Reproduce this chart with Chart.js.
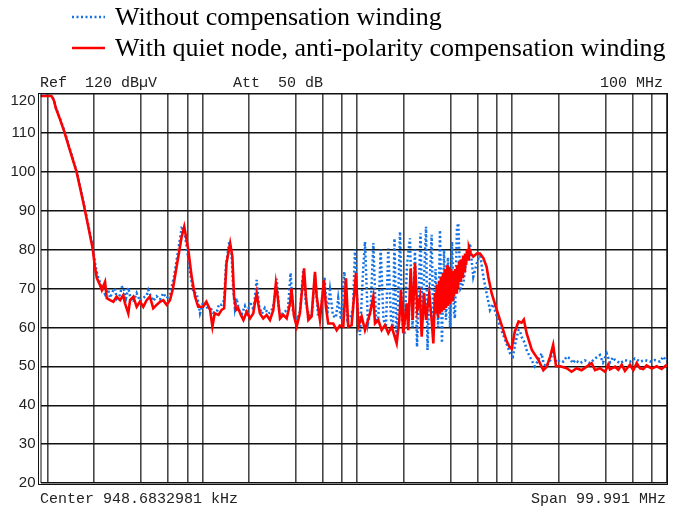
<!DOCTYPE html>
<html><head><meta charset="utf-8">
<script src="https://cdn.jsdelivr.net/npm/chart.js@4.4.1/dist/chart.umd.min.js"></script>
<style>html,body{margin:0;padding:0;background:#fff}#wrap{width:673px;height:510px;position:relative}</style>
</head><body><div id="wrap"><canvas id="c" width="673" height="510"></canvas></div>
<script>
const seriesNames = ["Without compensation winding", "With quiet node, anti-polarity compensation winding"];
const gridFreqMHz = [0.01,0.02,0.04,0.06,0.08,0.1,0.2,0.4,0.6,0.8,1,2,4,6,8,10,20,40,60,80,100];
const levelTicks = [20,30,40,50,60,70,80,90,100,110,120];
const headerTexts = ["Ref  120 dB\u00b5V", "Att  50 dB", "100 MHz"];
const footerTexts = ["Center 948.6832981 kHz", "Span 99.991 MHz"];

const withoutFreqMHz = [
0.009,0.0106,0.0110,0.0113,0.0120,0.0128,0.0138,0.0154,0.0169,0.0183,0.0196,0.0202,
0.0208,0.0213,0.0224,0.0235,0.0246,0.0253,0.0266,0.0272,0.0280,0.0294,
0.0301,0.0308,0.0321,0.0332,0.0341,0.0358,0.0376,0.0395,0.0415,0.0436,
0.0447,0.0458,0.0481,0.0506,0.0532,0.0558,0.0587,0.0617,0.0655,0.0695,
0.0734,0.0763,0.0796,0.0832,0.0875,0.0918,0.0964,0.101,0.104,0.109,
0.112,0.117,0.124,0.128,0.133,0.138,0.142,0.149,0.154,0.158,
0.162,0.166,0.172,0.180,0.188,0.195,0.203,0.214,0.224,0.232,
0.242,0.253,0.265,0.277,0.289,0.302,0.312,0.326,0.341,0.357,
0.371,0.384,0.405,0.426,0.448,0.466,0.488,0.510,0.533,0.557,
0.582,0.613,0.641,0.666,0.696,0.728,0.753,0.784,0.825,0.863,
0.910,0.938,0.967,0.996,1.041,1.088,1.121,1.172,1.217,1.269,
1.321,1.366,1.416,1.476,1.532,1.585,1.651,1.700,1.738,1.791,
1.845,1.887,1.945,2.016,2.093,2.188,2.272,2.358,2.43,2.50,
2.56,2.636,2.718,2.78,2.84,2.925,3.02,3.10,3.20,3.33,
3.42,3.52,3.63,3.74,3.85,3.97,4.09,4.21,4.27,4.40,
4.49,4.64,4.84,5.09,5.34,5.61,5.91,6.20,6.52,6.84,
7.19,7.52,7.96,8.35,9.00,9.70,10.1,10.6,11.0,11.2,
11.5,12.1,12.4,13.0,14.0,14.7,15.5,16.0,16.7,17.6,
18.4,19.3,20.4,21.4,22.5,23.6,24.7,25.5,27.4,29.5,
31.8,34.3,36.9,38.6,40.8,42.8,44.8,46.2,49.8,53.5,
57.7,62.1,66.9,72.0,77.7,83.6,90.1,94.6,98.3,100];
const withoutLevel = [
119.6,119.6,118.5,116.6,113.8,110.7,106.4,100.2,93,86.4,80.6,76.8,
74.2,72.6,70.3,68.5,69.8,67.6,69.6,70,67.4,68.4,
70.3,70.5,67.5,70.2,68,66.5,68.8,66.8,67.6,68.2,
69.6,68.5,66.8,68,67.2,68.8,67.5,68.5,73,79.5,
85.5,85,80,74,69,68.8,63.6,66.5,66.2,64.5,
65.3,63.8,64,66,65.8,67,76,82,79,70,
65,67.5,64.5,63.5,65.5,63.5,66.6,64.5,72.2,65.5,
63.5,65,63.5,64,66,72.5,64.5,63.5,64,65,
74,64,62,64,74.8,66,63,64,73.5,63.5,
64,73,63.5,69.6,63,62.5,67.5,62,74.3,62,
63,65,80,68,58,74,82,61,64,81.7,
62,61.9,80,62,60,80.3,62,60,82.9,56.6,
70,84.6,62,58,76,82.9,60,80,55,70,
84.2,62,76,85.9,54.2,70,83.8,58,75,60,
85,56,80,62,78,60,82,64,62.3,85.5,
86.8,70,71.3,78.2,81.6,73,76.5,79,73,68.8,
64.5,66,62.8,60.2,56.8,53.3,52.5,56.8,59.3,59.3,
57.6,55.9,54.2,52.5,50,51.5,53.3,50.5,50,51.5,
54.2,51,51.6,51.2,52.5,52,50.8,51.6,50.8,51.5,
50.8,52,52.9,51,53.3,51,52.3,51.6,50.8,51.6,
51.2,52,51.2,51.6,51.2,51.6,51.2,52.5,51.5,51.8];

const withFreqMHz = [
0.009,0.0106,0.0110,0.0113,0.0120,0.0128,0.0138,0.0154,0.0169,0.0183,0.0196,0.0202,
0.0208,0.0218,0.0224,0.0235,0.0241,0.0253,0.0266,0.0279,0.0294,0.0308,
0.0316,0.0332,0.0341,0.0358,0.0376,0.0395,0.0415,0.0436,0.0458,0.0481,
0.0506,0.0532,0.0558,0.0587,0.0617,0.0645,0.0681,0.0734,0.0763,0.0810,
0.0852,0.0896,0.0939,0.101,0.106,0.112,0.116,0.120,0.127,0.133,
0.138,0.143,0.151,0.156,0.160,0.165,0.170,0.177,0.184,0.193,
0.203,0.213,0.218,0.224,0.229,0.235,0.247,0.260,0.273,0.287,
0.298,0.306,0.317,0.333,0.350,0.368,0.376,0.390,0.406,0.426,
0.453,0.466,0.483,0.507,0.533,0.547,0.574,0.609,0.627,0.649,
0.699,0.736,0.771,0.812,0.845,0.874,0.919,0.981,1.015,1.067,
1.121,1.208,1.269,1.301,1.366,1.437,1.509,1.585,1.667,1.796,
1.867,1.915,1.98,2.084,2.134,2.212,2.279,2.358,2.44,2.54,
2.605,2.70,2.78,2.916,3.02,3.097,3.175,3.225,3.275,3.325,
3.375,3.42,3.47,3.52,3.57,3.63,3.68,3.74,3.80,3.85,
3.91,3.97,4.03,4.09,4.15,4.21,4.27,4.34,4.40,4.47,
4.54,4.61,4.67,4.745,4.815,4.89,4.96,5.035,5.11,5.19,
5.26,5.40,5.61,5.91,6.20,6.52,6.84,7.01,7.37,7.96,
8.55,9.21,9.61,9.93,10.4,11.0,11.5,11.9,12.4,13.4,
14.8,15.9,16.7,17.6,18.4,19.2,20.4,22.5,24.2,26.1,
28.1,30.3,32.6,34.3,36.9,39.8,41.7,42.8,46.2,48.5,
51.0,53.5,57.7,60.6,63.7,66.9,70.3,73.9,79.7,85.8,
92.3,98.3,100];
const withLevel = [
119.5,119.5,118.3,116.4,113.6,110.4,106.1,99.9,92.6,86,80,75.6,
72.7,70.9,69.6,71.7,67.5,67,66.6,67.9,67,68.3,
66.2,63.6,67,67.9,65.3,66.6,65.3,67,67.9,64.9,
65.8,66.6,67,65.8,67,70,75.6,83.3,85.9,80,
73,67.9,65.3,65.3,66.6,64.5,60.2,63.6,63.2,64.5,
64.9,76.5,81.6,78.2,67.9,64.5,65,63.2,61.9,64,
62.3,63.6,66.2,68.8,66.2,63.6,62.3,63.2,61.9,64.5,
71.3,67.9,62.3,63.2,62.3,66.2,70,63,60.2,63.6,
75.2,67.9,61.9,62.8,74.3,67.9,61.9,72.2,65.3,61,
61,59.3,60.5,60.2,72.6,60.2,60.6,74,60.2,62.8,
59.3,63.6,67.9,61,61.9,59.3,60.6,58.5,60.2,55.9,
61.9,69.6,58.5,66.2,59.3,75.2,61.9,76.5,64.5,67.9,
57.6,68.8,61.9,68.8,61.9,55.9,68.8,63.5,71,62.5,
72,63.5,73,64,74,64.5,75,65,76,65.5,
75.5,66,75,67,74.5,68,75,69,76,70,
77,72,77.5,73,78.5,74.5,79,76,80,77.5,
80.5,79,78.2,79,79,77.8,75.6,73,68.8,64.5,
60.6,56.5,55,54.5,58.9,61.5,61.2,62,58.5,54.2,
51.6,49,49.9,52.5,55.5,50,50,49.5,48.6,49.5,
49,49.9,50.8,49,49.5,48.6,50.4,49.2,49.9,49.1,
50.4,48.8,50.4,49,50.8,49.5,49.3,50.2,49.4,50,
49.3,50.2,49.8];

function toPoints(fs, ls) {
  const n = Math.min(fs.length, ls.length);
  const out = [];
  for (let i = 0; i < n; i++) out.push({x: fs[i], y: ls[i]});
  return out;
}

const analyzerPlugin = {
  id: 'analyzer',
  afterDraw(chart) {
    const ctx = chart.ctx, a = chart.chartArea;
    ctx.save();
    ctx.strokeStyle = '#111';
    ctx.lineWidth = 1;
    ctx.strokeRect(a.left - 2, a.top - 0.5, a.right - a.left + 2.5, a.bottom - a.top + 2);
    ctx.beginPath();
    ctx.moveTo(a.left + 0.5, a.top); ctx.lineTo(a.left + 0.5, a.bottom);
    ctx.stroke();
    ctx.fillStyle = '#222';
    ctx.font = '15px "Liberation Mono", monospace';
    ctx.textBaseline = 'middle';
    ctx.textAlign = 'left';
    ctx.fillText(headerTexts[0], 40, 83);
    ctx.fillText(headerTexts[1], 233, 83);
    ctx.textAlign = 'right';
    ctx.fillText(headerTexts[2], 663, 83);
    ctx.textAlign = 'left';
    ctx.fillText(footerTexts[0], 40, 499);
    ctx.textAlign = 'right';
    ctx.fillText(footerTexts[1], 666, 499);
    chart.data.datasets.forEach((ds, i) => {
      const y = 17 + i * 31;
      ctx.strokeStyle = ds.borderColor;
      ctx.lineWidth = ds.borderWidth;
      ctx.setLineDash(ds.borderDash || []);
      ctx.beginPath(); ctx.moveTo(72, y); ctx.lineTo(105, y); ctx.stroke();
      ctx.setLineDash([]);
      ctx.fillStyle = '#000';
      ctx.font = '26px "Liberation Serif", serif';
      ctx.textAlign = 'left';
      ctx.textBaseline = 'middle';
      ctx.fillText(ds.label, 115, y + 1);
    });
    ctx.restore();
  }
};

new Chart(document.getElementById('c'), {
  type: 'line',
  data: {
    datasets: [
      { label: seriesNames[0], data: toPoints(withoutFreqMHz, withoutLevel),
        borderColor: '#1272e6', borderWidth: 2.5, borderDash: [2, 2.5],
        pointRadius: 0, tension: 0, fill: false, order: 2 },
      { label: seriesNames[1], data: toPoints(withFreqMHz, withLevel),
        borderColor: '#ff0000', borderWidth: 2.6,
        pointRadius: 0, tension: 0, fill: false, order: 1 }
    ]
  },
  options: {
    responsive: false,
    animation: false,
    devicePixelRatio: 1,
    layout: { padding: { left: 0, right: 6, top: 94, bottom: 27 } },
    plugins: { legend: { display: false }, tooltip: { enabled: false } },
    scales: {
      x: {
        type: 'logarithmic', min: 0.009, max: 100,
        afterBuildTicks: (s) => { s.ticks = gridFreqMHz.map(v => ({ value: v })); },
        afterFit: (s) => { s.height = 0; },
        ticks: { display: false },
        grid: { color: 'rgba(0,0,0,0.72)', lineWidth: 1.6, drawTicks: false },
        border: { display: false }
      },
      y: {
        min: 20, max: 120,
        afterBuildTicks: (s) => { s.ticks = levelTicks.map(v => ({ value: v })); },
        afterFit: (s) => { s.width = 40.5; },
        ticks: {
          padding: 5, color: '#222',
          font: { family: "'Liberation Sans', Arial", size: 15, lineHeight: 0.95 },
          callback: (v) => v === 120 ? ['', '120'] : String(v)
        },
        grid: { color: '#111', lineWidth: 1.4, drawTicks: false },
        border: { display: false }
      }
    }
  },
  plugins: [analyzerPlugin]
});
</script>
</body></html>
